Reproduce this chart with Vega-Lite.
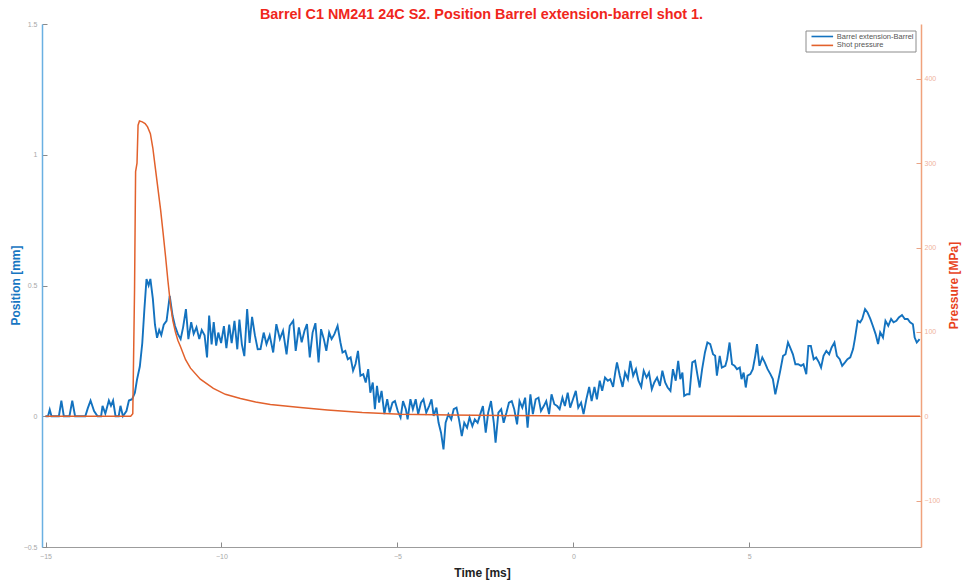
{
  "$schema": "https://vega.github.io/schema/vega-lite/v6.json",
  "width": 879,
  "height": 523,
  "autosize": {"type": "none"},
  "padding": {"left": 42, "top": 24, "right": 43, "bottom": 35},
  "background": "white",
  "title": {
    "text": "Barrel C1 NM241 24C S2. Position Barrel extension-barrel shot 1.",
    "font": "Liberation Sans",
    "fontSize": 14.4,
    "fontWeight": "bold",
    "color": "#f0261c",
    "anchor": "middle",
    "offset": -2
  },
  "datasets": {
    "position": [
      {"t": -15.0, "mm": 0.0}, {"t": -14.93, "mm": 0.0}, {"t": -14.88, "mm": 0.025}, {"t": -14.83, "mm": 0.0},
      {"t": -14.62, "mm": 0.0}, {"t": -14.55, "mm": 0.06}, {"t": -14.48, "mm": 0.0}, {"t": -14.32, "mm": 0.0},
      {"t": -14.24, "mm": 0.06}, {"t": -14.16, "mm": 0.0}, {"t": -13.87, "mm": 0.0}, {"t": -13.8, "mm": 0.03},
      {"t": -13.72, "mm": 0.06}, {"t": -13.62, "mm": 0.02}, {"t": -13.52, "mm": 0.0}, {"t": -13.42, "mm": 0.0},
      {"t": -13.38, "mm": 0.04}, {"t": -13.3, "mm": 0.01}, {"t": -13.2, "mm": 0.06}, {"t": -13.14, "mm": 0.04},
      {"t": -13.08, "mm": 0.06}, {"t": -13.01, "mm": 0.0}, {"t": -12.92, "mm": 0.0}, {"t": -12.87, "mm": 0.04},
      {"t": -12.8, "mm": 0.0}, {"t": -12.7, "mm": 0.02}, {"t": -12.63, "mm": 0.06}, {"t": -12.54, "mm": 0.065},
      {"t": -12.46, "mm": 0.09}, {"t": -12.4, "mm": 0.14}, {"t": -12.32, "mm": 0.19}, {"t": -12.25, "mm": 0.28},
      {"t": -12.19, "mm": 0.41}, {"t": -12.13, "mm": 0.525}, {"t": -12.07, "mm": 0.5}, {"t": -12.02, "mm": 0.525},
      {"t": -11.95, "mm": 0.45}, {"t": -11.89, "mm": 0.35}, {"t": -11.83, "mm": 0.3}, {"t": -11.77, "mm": 0.33},
      {"t": -11.71, "mm": 0.31}, {"t": -11.64, "mm": 0.35}, {"t": -11.56, "mm": 0.365}, {"t": -11.47, "mm": 0.46},
      {"t": -11.39, "mm": 0.385}, {"t": -11.32, "mm": 0.345}, {"t": -11.24, "mm": 0.315}, {"t": -11.16, "mm": 0.295},
      {"t": -11.09, "mm": 0.34}, {"t": -11.01, "mm": 0.41}, {"t": -10.94, "mm": 0.295}, {"t": -10.86, "mm": 0.36},
      {"t": -10.79, "mm": 0.315}, {"t": -10.71, "mm": 0.34}, {"t": -10.63, "mm": 0.295}, {"t": -10.56, "mm": 0.33},
      {"t": -10.48, "mm": 0.31}, {"t": -10.41, "mm": 0.225}, {"t": -10.35, "mm": 0.385}, {"t": -10.28, "mm": 0.275},
      {"t": -10.22, "mm": 0.36}, {"t": -10.15, "mm": 0.27}, {"t": -10.09, "mm": 0.32}, {"t": -10.01, "mm": 0.28},
      {"t": -9.93, "mm": 0.345}, {"t": -9.86, "mm": 0.26}, {"t": -9.78, "mm": 0.35}, {"t": -9.71, "mm": 0.28},
      {"t": -9.63, "mm": 0.365}, {"t": -9.55, "mm": 0.256}, {"t": -9.49, "mm": 0.37}, {"t": -9.42, "mm": 0.275},
      {"t": -9.35, "mm": 0.23}, {"t": -9.27, "mm": 0.41}, {"t": -9.2, "mm": 0.28}, {"t": -9.13, "mm": 0.38},
      {"t": -9.05, "mm": 0.31}, {"t": -8.97, "mm": 0.256}, {"t": -8.89, "mm": 0.257}, {"t": -8.8, "mm": 0.32},
      {"t": -8.72, "mm": 0.276}, {"t": -8.63, "mm": 0.31}, {"t": -8.53, "mm": 0.244}, {"t": -8.44, "mm": 0.352},
      {"t": -8.34, "mm": 0.295}, {"t": -8.25, "mm": 0.327}, {"t": -8.15, "mm": 0.237}, {"t": -8.06, "mm": 0.346},
      {"t": -7.96, "mm": 0.365}, {"t": -7.89, "mm": 0.25}, {"t": -7.8, "mm": 0.34}, {"t": -7.72, "mm": 0.283},
      {"t": -7.64, "mm": 0.327}, {"t": -7.57, "mm": 0.352}, {"t": -7.49, "mm": 0.225}, {"t": -7.41, "mm": 0.32},
      {"t": -7.33, "mm": 0.356}, {"t": -7.24, "mm": 0.206}, {"t": -7.17, "mm": 0.333}, {"t": -7.09, "mm": 0.295},
      {"t": -7.02, "mm": 0.25}, {"t": -6.94, "mm": 0.32}, {"t": -6.87, "mm": 0.295}, {"t": -6.79, "mm": 0.314},
      {"t": -6.7, "mm": 0.346}, {"t": -6.62, "mm": 0.283}, {"t": -6.56, "mm": 0.244}, {"t": -6.48, "mm": 0.25},
      {"t": -6.41, "mm": 0.218}, {"t": -6.33, "mm": 0.225}, {"t": -6.26, "mm": 0.174}, {"t": -6.19, "mm": 0.2},
      {"t": -6.12, "mm": 0.25}, {"t": -6.05, "mm": 0.155}, {"t": -5.97, "mm": 0.161}, {"t": -5.9, "mm": 0.129},
      {"t": -5.83, "mm": 0.18}, {"t": -5.77, "mm": 0.09}, {"t": -5.7, "mm": 0.129}, {"t": -5.64, "mm": 0.027},
      {"t": -5.58, "mm": 0.116}, {"t": -5.52, "mm": 0.052}, {"t": -5.45, "mm": 0.097}, {"t": -5.37, "mm": 0.008},
      {"t": -5.29, "mm": 0.065}, {"t": -5.22, "mm": 0.014}, {"t": -5.14, "mm": 0.052}, {"t": -5.07, "mm": 0.058},
      {"t": -4.99, "mm": 0.02}, {"t": -4.91, "mm": -0.005}, {"t": -4.84, "mm": 0.058}, {"t": -4.76, "mm": 0.027},
      {"t": -4.71, "mm": -0.012}, {"t": -4.63, "mm": 0.065}, {"t": -4.56, "mm": 0.027}, {"t": -4.48, "mm": 0.065},
      {"t": -4.41, "mm": 0.008}, {"t": -4.33, "mm": 0.052}, {"t": -4.26, "mm": 0.065}, {"t": -4.18, "mm": 0.014},
      {"t": -4.1, "mm": 0.039}, {"t": -4.03, "mm": 0.065}, {"t": -3.97, "mm": 0.001}, {"t": -3.89, "mm": 0.033},
      {"t": -3.83, "mm": -0.025}, {"t": -3.76, "mm": -0.063}, {"t": -3.69, "mm": -0.127}, {"t": -3.63, "mm": -0.025},
      {"t": -3.55, "mm": 0.008}, {"t": -3.47, "mm": -0.012}, {"t": -3.4, "mm": 0.027}, {"t": -3.32, "mm": 0.033},
      {"t": -3.25, "mm": -0.012}, {"t": -3.17, "mm": -0.076}, {"t": -3.1, "mm": -0.025}, {"t": -3.02, "mm": -0.044},
      {"t": -2.95, "mm": -0.005}, {"t": -2.87, "mm": -0.038}, {"t": -2.8, "mm": -0.012}, {"t": -2.72, "mm": -0.025},
      {"t": -2.64, "mm": 0.01}, {"t": -2.57, "mm": 0.039}, {"t": -2.49, "mm": -0.063}, {"t": -2.42, "mm": 0.014},
      {"t": -2.34, "mm": 0.058}, {"t": -2.26, "mm": -0.025}, {"t": -2.21, "mm": -0.101}, {"t": -2.13, "mm": 0.014},
      {"t": -2.05, "mm": 0.027}, {"t": -1.98, "mm": -0.025}, {"t": -1.9, "mm": 0.014}, {"t": -1.83, "mm": 0.052},
      {"t": -1.75, "mm": 0.058}, {"t": -1.68, "mm": 0.027}, {"t": -1.6, "mm": -0.031}, {"t": -1.53, "mm": 0.058},
      {"t": -1.45, "mm": 0.033}, {"t": -1.37, "mm": 0.071}, {"t": -1.3, "mm": -0.044}, {"t": -1.22, "mm": 0.084},
      {"t": -1.15, "mm": 0.008}, {"t": -1.07, "mm": 0.065}, {"t": -0.99, "mm": 0.071}, {"t": -0.92, "mm": 0.02},
      {"t": -0.84, "mm": 0.039}, {"t": -0.77, "mm": 0.058}, {"t": -0.69, "mm": 0.008}, {"t": -0.62, "mm": 0.084},
      {"t": -0.54, "mm": 0.046}, {"t": -0.46, "mm": 0.039}, {"t": -0.39, "mm": 0.027}, {"t": -0.31, "mm": 0.071},
      {"t": -0.24, "mm": 0.039}, {"t": -0.16, "mm": 0.09}, {"t": -0.09, "mm": 0.033}, {"t": -0.01, "mm": 0.065},
      {"t": 0.07, "mm": 0.097}, {"t": 0.14, "mm": 0.033}, {"t": 0.22, "mm": 0.052}, {"t": 0.29, "mm": 0.008},
      {"t": 0.37, "mm": 0.065}, {"t": 0.45, "mm": 0.112}, {"t": 0.52, "mm": 0.058}, {"t": 0.6, "mm": 0.112},
      {"t": 0.67, "mm": 0.065}, {"t": 0.75, "mm": 0.136}, {"t": 0.82, "mm": 0.097}, {"t": 0.9, "mm": 0.148},
      {"t": 0.98, "mm": 0.136}, {"t": 1.05, "mm": 0.142}, {"t": 1.13, "mm": 0.112}, {"t": 1.19, "mm": 0.167},
      {"t": 1.24, "mm": 0.206}, {"t": 1.32, "mm": 0.155}, {"t": 1.4, "mm": 0.112}, {"t": 1.47, "mm": 0.167},
      {"t": 1.55, "mm": 0.142}, {"t": 1.62, "mm": 0.212}, {"t": 1.7, "mm": 0.155}, {"t": 1.78, "mm": 0.18},
      {"t": 1.85, "mm": 0.136}, {"t": 1.93, "mm": 0.112}, {"t": 2.0, "mm": 0.174}, {"t": 2.08, "mm": 0.148},
      {"t": 2.15, "mm": 0.167}, {"t": 2.23, "mm": 0.103}, {"t": 2.3, "mm": 0.129}, {"t": 2.38, "mm": 0.148},
      {"t": 2.46, "mm": 0.116}, {"t": 2.53, "mm": 0.174}, {"t": 2.61, "mm": 0.129}, {"t": 2.68, "mm": 0.11},
      {"t": 2.76, "mm": 0.097}, {"t": 2.83, "mm": 0.18}, {"t": 2.91, "mm": 0.136}, {"t": 2.98, "mm": 0.212},
      {"t": 3.04, "mm": 0.142}, {"t": 3.1, "mm": 0.167}, {"t": 3.15, "mm": 0.078}, {"t": 3.23, "mm": 0.084},
      {"t": 3.3, "mm": 0.084}, {"t": 3.38, "mm": 0.206}, {"t": 3.46, "mm": 0.212}, {"t": 3.53, "mm": 0.155},
      {"t": 3.59, "mm": 0.11}, {"t": 3.66, "mm": 0.18}, {"t": 3.74, "mm": 0.244}, {"t": 3.81, "mm": 0.282},
      {"t": 3.89, "mm": 0.276}, {"t": 3.97, "mm": 0.237}, {"t": 4.03, "mm": 0.231}, {"t": 4.08, "mm": 0.155},
      {"t": 4.16, "mm": 0.231}, {"t": 4.22, "mm": 0.186}, {"t": 4.32, "mm": 0.193}, {"t": 4.37, "mm": 0.218},
      {"t": 4.44, "mm": 0.282}, {"t": 4.51, "mm": 0.199}, {"t": 4.58, "mm": 0.193}, {"t": 4.65, "mm": 0.18},
      {"t": 4.73, "mm": 0.186}, {"t": 4.78, "mm": 0.142}, {"t": 4.84, "mm": 0.167}, {"t": 4.9, "mm": 0.11},
      {"t": 4.95, "mm": 0.155}, {"t": 5.03, "mm": 0.161}, {"t": 5.1, "mm": 0.18}, {"t": 5.17, "mm": 0.231},
      {"t": 5.22, "mm": 0.276}, {"t": 5.29, "mm": 0.193}, {"t": 5.37, "mm": 0.225}, {"t": 5.44, "mm": 0.206},
      {"t": 5.52, "mm": 0.18}, {"t": 5.6, "mm": 0.161}, {"t": 5.67, "mm": 0.142}, {"t": 5.74, "mm": 0.084},
      {"t": 5.8, "mm": 0.122}, {"t": 5.88, "mm": 0.174}, {"t": 5.96, "mm": 0.231}, {"t": 6.03, "mm": 0.237},
      {"t": 6.1, "mm": 0.282}, {"t": 6.16, "mm": 0.263}, {"t": 6.24, "mm": 0.237}, {"t": 6.31, "mm": 0.199},
      {"t": 6.39, "mm": 0.199}, {"t": 6.47, "mm": 0.193}, {"t": 6.54, "mm": 0.199}, {"t": 6.62, "mm": 0.161},
      {"t": 6.68, "mm": 0.269}, {"t": 6.75, "mm": 0.269}, {"t": 6.83, "mm": 0.218}, {"t": 6.9, "mm": 0.225},
      {"t": 6.98, "mm": 0.206}, {"t": 7.04, "mm": 0.186}, {"t": 7.11, "mm": 0.231}, {"t": 7.19, "mm": 0.25},
      {"t": 7.27, "mm": 0.237}, {"t": 7.34, "mm": 0.263}, {"t": 7.42, "mm": 0.282}, {"t": 7.49, "mm": 0.231},
      {"t": 7.57, "mm": 0.218}, {"t": 7.64, "mm": 0.193}, {"t": 7.72, "mm": 0.206}, {"t": 7.79, "mm": 0.218},
      {"t": 7.87, "mm": 0.225}, {"t": 7.95, "mm": 0.257}, {"t": 8.0, "mm": 0.295}, {"t": 8.08, "mm": 0.365},
      {"t": 8.15, "mm": 0.359}, {"t": 8.21, "mm": 0.372}, {"t": 8.29, "mm": 0.41}, {"t": 8.36, "mm": 0.397},
      {"t": 8.44, "mm": 0.372}, {"t": 8.51, "mm": 0.346}, {"t": 8.59, "mm": 0.314}, {"t": 8.66, "mm": 0.276},
      {"t": 8.72, "mm": 0.321}, {"t": 8.8, "mm": 0.301}, {"t": 8.87, "mm": 0.365}, {"t": 8.95, "mm": 0.346},
      {"t": 9.03, "mm": 0.372}, {"t": 9.1, "mm": 0.359}, {"t": 9.18, "mm": 0.365}, {"t": 9.25, "mm": 0.378},
      {"t": 9.34, "mm": 0.387}, {"t": 9.42, "mm": 0.372}, {"t": 9.5, "mm": 0.372}, {"t": 9.57, "mm": 0.359},
      {"t": 9.65, "mm": 0.352}, {"t": 9.7, "mm": 0.301}, {"t": 9.76, "mm": 0.282}, {"t": 9.84, "mm": 0.295}
    ],
    "pressure": [
      {"t": -15.0, "mpa": 0}, {"t": -12.58, "mpa": 0}, {"t": -12.52, "mpa": 3}, {"t": -12.47, "mpa": 150},
      {"t": -12.44, "mpa": 290}, {"t": -12.4, "mpa": 300}, {"t": -12.37, "mpa": 345}, {"t": -12.33, "mpa": 350},
      {"t": -12.25, "mpa": 349}, {"t": -12.17, "mpa": 347}, {"t": -12.1, "mpa": 343}, {"t": -12.02, "mpa": 335},
      {"t": -11.95, "mpa": 318}, {"t": -11.875, "mpa": 293}, {"t": -11.8, "mpa": 268}, {"t": -11.73, "mpa": 245},
      {"t": -11.66, "mpa": 218}, {"t": -11.59, "mpa": 190}, {"t": -11.52, "mpa": 160}, {"t": -11.45, "mpa": 133},
      {"t": -11.38, "mpa": 113}, {"t": -11.31, "mpa": 100}, {"t": -11.24, "mpa": 90}, {"t": -11.16, "mpa": 82},
      {"t": -11.02, "mpa": 67}, {"t": -10.88, "mpa": 57}, {"t": -10.6, "mpa": 44}, {"t": -10.23, "mpa": 33},
      {"t": -9.89, "mpa": 26}, {"t": -9.46, "mpa": 21}, {"t": -9.03, "mpa": 17}, {"t": -8.61, "mpa": 14},
      {"t": -7.76, "mpa": 10.5}, {"t": -6.99, "mpa": 7.5}, {"t": -6.0, "mpa": 4.5}, {"t": -4.91, "mpa": 2.5},
      {"t": -3.49, "mpa": 1.5}, {"t": -2.07, "mpa": 0.8}, {"t": 0.0, "mpa": 0.3}, {"t": 9.85, "mpa": 0}
    ]
  },
  "encoding": {
    "x": {
      "field": "t",
      "type": "quantitative",
      "scale": {"domain": [-15.1, 9.88], "nice": false, "zero": false},
      "axis": {
        "values": [-15, -10, -5, 0, 5],
        "format": "d",
        "grid": false,
        "domainColor": "#9c9c9c",
        "tickColor": "#8a8a8a",
        "tickSize": -5,
        "labelPadding": 10,
        "labelFont": "Liberation Sans",
        "labelFontSize": 7,
        "labelColor": "#a8a8a8",
        "title": "Time [ms]",
        "titleFont": "Liberation Sans",
        "titleFontSize": 12,
        "titleFontWeight": "bold",
        "titleColor": "#222222",
        "titleX": 440,
        "titleY": 25,
        "titleAlign": "center",
        "titleBaseline": "middle"
      }
    }
  },
  "layer": [
    {
      "data": {"name": "position"},
      "mark": {"type": "line", "strokeWidth": 1.9},
      "encoding": {
        "y": {
          "field": "mm",
          "type": "quantitative",
          "scale": {"domain": [-0.5, 1.5], "nice": false, "zero": false},
          "axis": {
            "orient": "left",
            "values": [-0.5, 0, 0.5, 1, 1.5],
            "format": "~g",
            "grid": false,
            "domainColor": "#6ab0e2",
            "domainWidth": 1.5,
            "tickColor": "#8a8a8a",
            "tickSize": -5,
            "labelPadding": 10,
            "labelFont": "Liberation Sans",
            "labelFontSize": 7,
            "labelColor": "#a8a8a8",
            "title": "Position [mm]",
            "titleFont": "Liberation Sans",
            "titleFontSize": 12,
            "titleFontWeight": "bold",
            "titleColor": "#1776c2",
            "titleAngle": -90,
            "titleX": -27,
            "titleY": 261,
            "titleAlign": "center",
            "titleBaseline": "middle"
          }
        },
        "color": {
          "datum": "Barrel extension-Barrel",
          "type": "nominal",
          "scale": {
            "domain": ["Barrel extension-Barrel", "Shot pressure"],
            "range": ["#1372bf", "#e2612c"]
          },
          "legend": {
            "title": null,
            "orient": "none",
            "legendX": 763.5,
            "legendY": 6.5,
            "direction": "vertical",
            "fillColor": "white",
            "strokeColor": "#8c8c8c",
            "padding": 2,
            "rowPadding": 0.9,
            "symbolType": "M0,0H7.2",
            "symbolSize": 36,
            "symbolStrokeWidth": 1.6,
            "labelFont": "Liberation Sans",
            "labelFontSize": 7.5,
            "labelColor": "#555555",
            "labelOffset": 21.3
          }
        }
      }
    },
    {
      "data": {"name": "pressure"},
      "mark": {"type": "line", "strokeWidth": 1.5},
      "encoding": {
        "y": {
          "field": "mpa",
          "type": "quantitative",
          "scale": {"domain": [-155, 465], "nice": false, "zero": false},
          "axis": {
            "orient": "right",
            "values": [-100, 0, 100, 200, 300, 400],
            "grid": false,
            "domainColor": "#f0a27c",
            "domainWidth": 1.5,
            "tickColor": "#eaa486",
            "tickSize": -5,
            "labelPadding": 8,
            "labelFont": "Liberation Sans",
            "labelFontSize": 7,
            "labelColor": "#efb29c",
            "title": "Pressure [MPa]",
            "titleFont": "Liberation Sans",
            "titleFontSize": 12,
            "titleFontWeight": "bold",
            "titleColor": "#e8431e",
            "titleAngle": -90,
            "titleX": 32,
            "titleY": 261,
            "titleAlign": "center",
            "titleBaseline": "middle"
          }
        },
        "color": {"datum": "Shot pressure", "type": "nominal"}
      }
    }
  ],
  "resolve": {"scale": {"y": "independent"}},
  "config": {"view": {"stroke": null}}
}
